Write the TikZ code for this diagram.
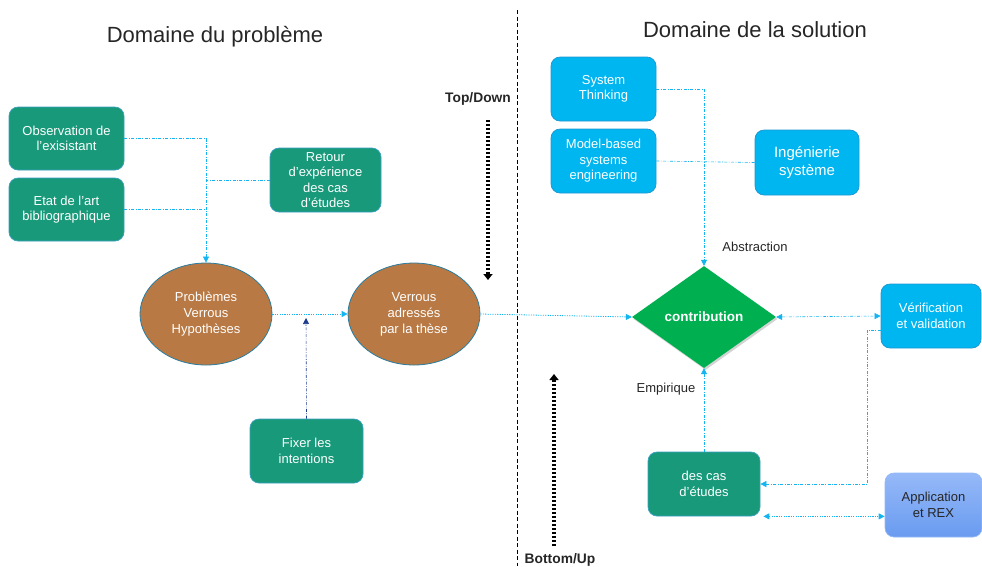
\documentclass[tikz,border=0pt]{standalone}
\usepackage{fontspec}
\setmainfont{Liberation Sans}
\usetikzlibrary{shapes.geometric,arrows.meta,shadows}
\definecolor{tealbox}{RGB}{24,153,122}
\definecolor{tealedge}{RGB}{60,160,190}
\definecolor{cyanbox}{RGB}{0,182,240}
\definecolor{cyanedge}{RGB}{30,150,210}
\definecolor{brownell}{RGB}{184,121,68}
\definecolor{brownedge}{RGB}{40,125,160}
\definecolor{greendia}{RGB}{0,176,80}
\definecolor{apptop}{RGB}{150,185,248}
\definecolor{appbot}{RGB}{105,155,240}
\definecolor{lineblue}{RGB}{20,180,240}
\definecolor{darkblue}{RGB}{30,60,140}
\tikzset{
  boxbase/.style={rectangle, rounded corners=9pt, inner sep=0pt, align=center,
    font=\fontsize{13}{15.5}\selectfont, line width=0.7pt},
  greenbox/.style={boxbase, fill=tealbox, draw=tealedge, text=white},
  bluebox/.style={boxbase, fill=cyanbox, draw=cyanedge, text=white},
  ellnode/.style={ellipse, fill=brownell, draw=brownedge, line width=0.8pt, text=white,
    inner sep=0pt, align=center, font=\fontsize{13}{16}\selectfont,
    minimum width=132pt, minimum height=102pt},
  conn/.style={draw=lineblue, line width=0.6pt, dash pattern=on 3pt off 1.5pt on 0.8pt off 1.5pt},
  dotconn/.style={draw=lineblue, line width=0.8pt, dash pattern=on 1.2pt off 1.2pt},
  tip/.style={-{Triangle[length=6pt,width=6pt]}},
  tips/.style={{Triangle[length=6pt,width=6pt]}-{Triangle[length=6pt,width=6pt]}},
  bigdots/.style={draw=black, line width=3.2pt, dash pattern=on 2pt off 2pt,
    -{Triangle[length=6pt,width=9pt]}},
  lbl/.style={font=\fontsize{13}{15}\selectfont, text=black!85, inner sep=0pt},
  boldlbl/.style={font=\fontsize{13.8}{16}\selectfont\bfseries, text=black!85, inner sep=0pt},
  title/.style={font=\fontsize{22}{26}\selectfont, text=black!85, inner sep=0pt}
}
\begin{document}
\begin{tikzpicture}[x=1pt,y=-1pt]
\useasboundingbox (0,0) rectangle (982,566);

% titles
\node[title] (t1) at (215,37) {Domaine du problème};
\node[title] (t2) at (755,30) {Domaine de la solution};

% separator
\coordinate (sepT) at (517,10);
\coordinate (sepB) at (517,566);
\draw[black, line width=0.8pt, dash pattern=on 4pt off 2.5pt] (sepT) -- (sepB);

% problem domain
\node[greenbox, minimum width=115pt, minimum height=63pt] (obs) at (66.5,138.5) {Observation de\\l’exisistant};
\node[greenbox, minimum width=115pt, minimum height=63pt] (etat) at (66.5,209.5) {Etat de l’art\\bibliographique};
\node[greenbox, minimum width=111pt, minimum height=64pt] (retour) at (325.5,180) {Retour\\d’expérience\\des cas\\d’études};
\node[ellnode] (e1) at (206,314) {Problèmes\\Verrous\\Hypothèses};
\node[ellnode] (e2) at (414,314) {Verrous\\adressés\\par la thèse};
\node[greenbox, minimum width=113pt, minimum height=64pt] (fixer) at (306.5,451) {Fixer les\\intentions};

\draw[conn] (obs.east) -- (obs.east -| e1.north);
\draw[conn] (etat.east) -- (etat.east -| e1.north);
\draw[conn] (retour.west) -- (retour.west -| e1.north);
\draw[conn, tip] (obs.east -| e1.north) -- (e1.north);
\draw[dotconn, tip] (e1.east) -- (e2.west);
\coordinate (fixTip) at (306,318);
\draw[draw=darkblue, line width=0.6pt, dash pattern=on 3pt off 1.5pt on 0.8pt off 1.5pt,
  -{Triangle[length=6pt,width=6pt]}, darkblue] (fixer.north) -- (fixTip);

% top/down
\node[boldlbl] (td) at (478,99) {Top/Down};
\coordinate (tdA) at (488,120);
\coordinate (tdB) at (488,280);
\draw[bigdots] (tdA) -- (tdB);
\node[boldlbl, anchor=north] (bu) at (560,553) {Bottom/Up};
\coordinate (buA) at (554,546);
\coordinate (buB) at (554,374);
\draw[bigdots] (buA) -- (buB);

% solution domain
\node[bluebox, minimum width=105pt, minimum height=64pt] (st) at (603.5,89) {System\\Thinking};
\node[bluebox, minimum width=105pt, minimum height=64pt] (mbse) at (603.5,161) {Model-based\\systems\\engineering};
\node[bluebox, minimum width=104pt, minimum height=65pt, font=\fontsize{15}{17.5}\selectfont] (ing) at (807,162.5) {Ingénierie\\système};
\node[diamond, fill=greendia, inner sep=0pt, minimum width=144pt, minimum height=102pt,
  text=white, font=\fontsize{13.5}{16}\selectfont\bfseries,
  drop shadow={shadow xshift=1.5pt, shadow yshift=-2pt, opacity=0.35}] (diam) at (704,317) {contribution};
\node[bluebox, minimum width=100pt, minimum height=64pt] (verif) at (931,316) {Vérification\\et validation};
\node[greenbox, minimum width=112pt, minimum height=64pt] (cas) at (704,484) {des cas\\d’études};
\node[boxbase, top color=apptop, bottom color=appbot, draw=apptop, text=black!85,
  minimum width=97pt, minimum height=64pt] (app) at (933.5,505) {Application\\et REX};

\node[lbl] (abs) at (755,247) {Abstraction};
\node[lbl] (emp) at (666,389) {Empirique};

\draw[dotconn, tip] (e2.east) -- (diam.west);
\draw[conn] (st.east) -- (st.east -| diam.north);
\draw[conn, tip] (st.east -| diam.north) -- (diam.north);
\draw[conn] (mbse.east) -- (ing.west);
\draw[conn, tips] (diam.east) -- (verif.west);
\coordinate (vv) at (867,330);
\draw[conn, tip] (vv -| verif.west) -- (vv) |- (cas.east);
\draw[conn, tip] (cas.north) -- (diam.south);
\draw[dotconn, tips] ([xshift=3pt]cas.south east) -- (cas.south east -| app.west);
\end{tikzpicture}
\end{document}
